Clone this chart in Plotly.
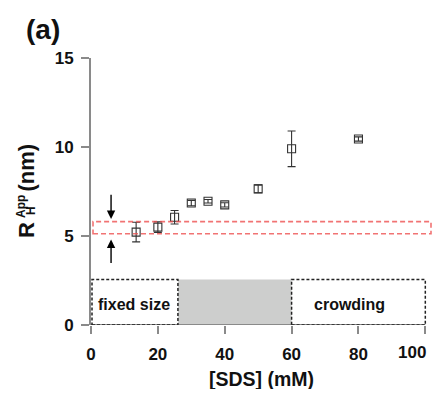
import plotly.graph_objects as go

# data
sds = [13.5, 20, 25, 30, 35, 40, 50, 60, 80]
rh = [5.22, 5.5, 6.05, 6.85, 6.95, 6.75, 7.65, 9.9, 10.45]
rh_err = [0.55, 0.3, 0.38, 0.15, 0.1, 0.12, 0.22, 1.0, 0.12]
x_ticks = [0, 20, 40, 60, 80, 100]
x_ticktext = ["0", "20", "40", "60", "80", ""]   # last label drawn shifted inward below
last_label = "100"
y_ticks = [0, 5, 10, 15]
band = [5.13, 5.81]             # red dashed band (nm)
regions = [(0.3, 26, "fixed size"), (26, 60, ""), (60, 100, "crowding")]
region_top = 2.55

FONT = "Liberation Sans, Arial, Helvetica, sans-serif"
AX = "#8a8a8a"
OFF = 8  # page body margin
W, H = 441 - 2 * OFF, 397 - 2 * OFF
L, T = 91 - OFF, 58 - OFF
B = H - T - 267
TICKFONT = dict(family=FONT, size=17, color="#111111", weight="bold")

fig = go.Figure()
fig.add_trace(go.Scatter(
    x=sds, y=rh, mode="markers",
    marker=dict(symbol="square-open", size=8, color="#333333", line=dict(width=1.1)),
    error_y=dict(type="data", array=rh_err, visible=True, color="#333333",
                 thickness=1.1, width=4),
    showlegend=False, cliponaxis=False,
))

shapes = []
shapes.append(dict(type="line", xref="x", yref="y", x0=x_ticks[0], x1=x_ticks[-1], y0=0, y1=0,
                   line=dict(color=AX, width=2), layer="below"))
for x0, x1, lab in regions:
    if lab:
        shapes.append(dict(type="rect", xref="x", yref="y", x0=x0, x1=x1, y0=0, y1=region_top,
                           line=dict(color="#222222", width=1.5, dash="3px,2px"),
                           fillcolor="rgba(0,0,0,0)", layer="above"))
    else:
        shapes.append(dict(type="rect", xref="x", yref="y", x0=x0, x1=x1, y0=0.05, y1=region_top,
                           line=dict(width=0), fillcolor="#cdcecd", layer="below"))
shapes.append(dict(type="rect", xref="x", yref="y", x0=0.6, x1=101.7, y0=band[0], y1=band[1],
                   line=dict(color="rgba(238,80,80,0.8)", width=1.6, dash="5px,3px"),
                   fillcolor="rgba(0,0,0,0)"))

ann = []
for x0, x1, lab in regions:
    if lab:
        cx = (x0 + x1) / 2 + (-0.3 if lab == "fixed size" else -2.8)
        ann.append(dict(x=cx, y=1.15, xref="x", yref="y", text=lab, showarrow=False,
                        font=dict(family=FONT, size=16, color="#111111", weight="bold")))
ann.append(dict(x=6, y=band[1] + 0.15, ax=6, ay=7.4, xref="x", yref="y", axref="x", ayref="y",
                text="", showarrow=True, arrowhead=2, arrowsize=1.2, arrowwidth=1.4, arrowcolor="#000000"))
ann.append(dict(x=6, y=band[0] - 0.33, ax=6, ay=3.4, xref="x", yref="y", axref="x", ayref="y",
                text="", showarrow=True, arrowhead=2, arrowsize=1.2, arrowwidth=1.4, arrowcolor="#000000"))
# last x tick label, right-aligned near its tick as in the reference
ann.append(dict(x=x_ticks[-1], y=0, xref="x", yref="y", text=last_label, showarrow=False,
                xanchor="right", yanchor="middle", xshift=3, yshift=-27, font=TICKFONT))

def pann(text, px, py, size, angle=0):
    # px, py in window pixels
    return dict(text=text, xref="paper", yref="paper", x=0, y=0, xanchor="center", yanchor="middle",
                xshift=(px - OFF) - L, yshift=(H - B) - (py - OFF), showarrow=False, textangle=angle,
                font=dict(family=FONT, size=size, color="#111111", weight="bold"))

ann.append(pann("(a)", 43, 29, 28))
ann.append(pann("[SDS] (mM)", 261, 378.5, 19.5))
ann.append(pann("R", 26, 230, 22, -90))
ann.append(pann("App", 21, 207, 12, -90))
ann.append(pann("H", 31, 211, 12, -90))
ann.append(pann("(nm)", 26, 167.5, 22, -90))

fig.update_layout(
    width=W, height=H, margin=dict(l=L, r=W - L - 340.7, t=T, b=B),
    paper_bgcolor="white", plot_bgcolor="white",
    shapes=shapes, annotations=ann,
    xaxis=dict(range=[0, 102], tickvals=x_ticks, ticktext=x_ticktext, ticks="outside", ticklen=8,
               tickwidth=1.5, tickcolor=AX, showline=False, showgrid=False, zeroline=False,
               tickfont=TICKFONT, ticklabelstandoff=6, automargin=False),
    yaxis=dict(range=[0, 15], tickvals=y_ticks, ticks="outside", ticklen=8, tickwidth=1.5,
               tickcolor=AX, showline=True, linecolor=AX, linewidth=2, showgrid=False, zeroline=False,
               tickfont=TICKFONT, ticklabelstandoff=4, automargin=False),
)
fig.write_html("out.html")
